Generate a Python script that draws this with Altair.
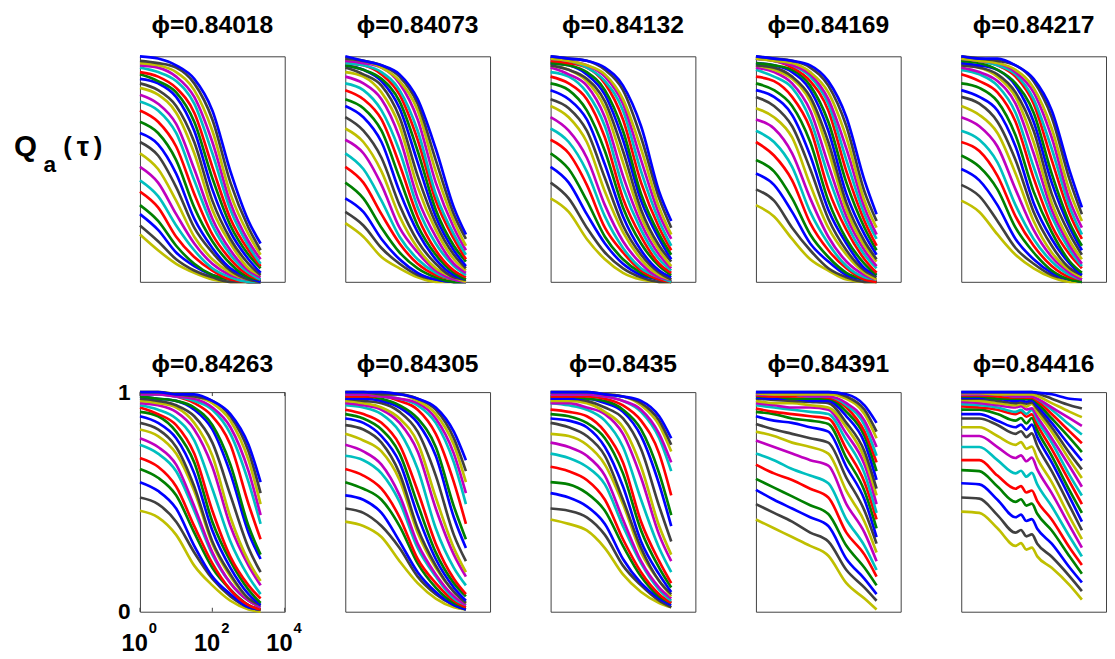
import altair as alt
import pandas as pd

TAU = [1, 3.162, 10, 31.62, 100, 316.2, 1000, 2154]
# the last panel is read more finely where its curves wiggle
TAU_P10 = [1, 3.162, 10, 31.62, 44.67, 63.1, 89.13, 125.9, 316.2, 1000, 2154]

PHI = ["0.84018", "0.84073", "0.84132", "0.84169", "0.84217",
       "0.84263", "0.84305", "0.8435", "0.84391", "0.84416"]

# Q_a(tau) for 24 probe lengths a, listed from the top curve to the bottom curve
P1 = [
    [1.00, 0.99, 0.96, 0.90, 0.76, 0.49, 0.27, 0.17],
    [0.98, 0.97, 0.95, 0.88, 0.72, 0.44, 0.24, 0.14],
    [0.97, 0.96, 0.93, 0.85, 0.67, 0.39, 0.21, 0.12],
    [0.96, 0.95, 0.91, 0.82, 0.62, 0.35, 0.18, 0.10],
    [0.95, 0.93, 0.89, 0.79, 0.57, 0.32, 0.16, 0.08],
    [0.93, 0.91, 0.86, 0.75, 0.51, 0.28, 0.14, 0.07],
    [0.92, 0.89, 0.84, 0.71, 0.46, 0.25, 0.12, 0.06],
    [0.90, 0.88, 0.82, 0.67, 0.41, 0.22, 0.10, 0.04],
    [0.88, 0.85, 0.78, 0.62, 0.36, 0.19, 0.08, 0.03],
    [0.86, 0.83, 0.75, 0.57, 0.32, 0.17, 0.06, 0.03],
    [0.83, 0.79, 0.70, 0.50, 0.28, 0.14, 0.05, 0.02],
    [0.80, 0.76, 0.66, 0.45, 0.25, 0.12, 0.04, 0.01],
    [0.76, 0.71, 0.60, 0.39, 0.21, 0.10, 0.03, 0.01],
    [0.71, 0.66, 0.54, 0.33, 0.18, 0.08, 0.02, 0.01],
    [0.66, 0.61, 0.48, 0.28, 0.15, 0.06, 0.02, 0.00],
    [0.62, 0.56, 0.42, 0.24, 0.13, 0.05, 0.01, 0.00],
    [0.57, 0.50, 0.36, 0.20, 0.10, 0.04, 0.01, 0.00],
    [0.51, 0.44, 0.30, 0.17, 0.08, 0.03, 0.01, 0.00],
    [0.45, 0.38, 0.25, 0.14, 0.06, 0.02, 0.00, 0.00],
    [0.40, 0.33, 0.20, 0.11, 0.05, 0.01, 0.00, 0.00],
    [0.34, 0.27, 0.16, 0.08, 0.03, 0.01, 0.00, 0.00],
    [0.30, 0.23, 0.13, 0.07, 0.03, 0.01, 0.00, 0.00],
    [0.25, 0.18, 0.10, 0.05, 0.02, 0.00, 0.00, 0.00],
    [0.21, 0.14, 0.08, 0.04, 0.01, 0.00, 0.00, 0.00],
]
P2 = [
    [1.00, 0.98, 0.96, 0.92, 0.81, 0.59, 0.33, 0.21],
    [0.99, 0.98, 0.96, 0.91, 0.79, 0.54, 0.30, 0.19],
    [0.99, 0.98, 0.95, 0.89, 0.76, 0.49, 0.27, 0.16],
    [0.98, 0.97, 0.95, 0.88, 0.72, 0.44, 0.24, 0.14],
    [0.97, 0.96, 0.93, 0.85, 0.67, 0.39, 0.21, 0.12],
    [0.97, 0.96, 0.92, 0.83, 0.63, 0.36, 0.19, 0.10],
    [0.96, 0.94, 0.90, 0.80, 0.58, 0.32, 0.16, 0.09],
    [0.96, 0.94, 0.89, 0.77, 0.53, 0.29, 0.14, 0.07],
    [0.95, 0.92, 0.87, 0.73, 0.47, 0.26, 0.12, 0.06],
    [0.93, 0.91, 0.84, 0.69, 0.42, 0.23, 0.10, 0.05],
    [0.91, 0.88, 0.81, 0.64, 0.37, 0.20, 0.08, 0.04],
    [0.88, 0.85, 0.76, 0.58, 0.33, 0.17, 0.07, 0.03],
    [0.85, 0.81, 0.72, 0.52, 0.29, 0.14, 0.05, 0.02],
    [0.81, 0.77, 0.67, 0.46, 0.25, 0.12, 0.04, 0.01],
    [0.78, 0.73, 0.62, 0.40, 0.22, 0.10, 0.03, 0.01],
    [0.73, 0.67, 0.55, 0.34, 0.18, 0.08, 0.02, 0.01],
    [0.68, 0.62, 0.49, 0.29, 0.15, 0.06, 0.02, 0.00],
    [0.63, 0.57, 0.43, 0.24, 0.13, 0.05, 0.01, 0.00],
    [0.57, 0.50, 0.36, 0.20, 0.10, 0.04, 0.01, 0.00],
    [0.51, 0.44, 0.30, 0.17, 0.08, 0.03, 0.01, 0.00],
    [0.44, 0.37, 0.24, 0.13, 0.06, 0.02, 0.00, 0.00],
    [0.37, 0.31, 0.19, 0.10, 0.04, 0.01, 0.00, 0.00],
    [0.31, 0.25, 0.15, 0.08, 0.03, 0.01, 0.00, 0.00],
    [0.26, 0.20, 0.11, 0.06, 0.02, 0.00, 0.00, 0.00],
]
P3 = [
    [1.00, 0.99, 0.98, 0.95, 0.87, 0.69, 0.40, 0.27],
    [1.00, 0.99, 0.98, 0.94, 0.85, 0.64, 0.37, 0.24],
    [0.99, 0.98, 0.96, 0.92, 0.81, 0.59, 0.33, 0.21],
    [0.99, 0.98, 0.96, 0.91, 0.79, 0.54, 0.30, 0.19],
    [0.99, 0.98, 0.95, 0.89, 0.76, 0.49, 0.27, 0.16],
    [0.98, 0.97, 0.95, 0.88, 0.72, 0.44, 0.24, 0.14],
    [0.97, 0.96, 0.93, 0.85, 0.67, 0.39, 0.21, 0.12],
    [0.97, 0.96, 0.92, 0.83, 0.63, 0.36, 0.19, 0.10],
    [0.96, 0.94, 0.90, 0.80, 0.58, 0.32, 0.16, 0.09],
    [0.96, 0.94, 0.89, 0.77, 0.53, 0.29, 0.14, 0.07],
    [0.95, 0.92, 0.87, 0.73, 0.47, 0.26, 0.12, 0.06],
    [0.93, 0.91, 0.84, 0.69, 0.42, 0.23, 0.10, 0.05],
    [0.91, 0.88, 0.81, 0.64, 0.37, 0.20, 0.08, 0.04],
    [0.88, 0.85, 0.76, 0.58, 0.33, 0.17, 0.07, 0.03],
    [0.85, 0.81, 0.72, 0.52, 0.29, 0.14, 0.05, 0.02],
    [0.81, 0.77, 0.67, 0.46, 0.25, 0.12, 0.04, 0.01],
    [0.78, 0.73, 0.62, 0.40, 0.22, 0.10, 0.03, 0.01],
    [0.73, 0.67, 0.55, 0.34, 0.18, 0.08, 0.02, 0.01],
    [0.68, 0.62, 0.49, 0.29, 0.15, 0.06, 0.02, 0.00],
    [0.63, 0.57, 0.43, 0.24, 0.13, 0.05, 0.01, 0.00],
    [0.57, 0.50, 0.36, 0.20, 0.10, 0.04, 0.01, 0.00],
    [0.51, 0.44, 0.30, 0.17, 0.08, 0.03, 0.01, 0.00],
    [0.44, 0.37, 0.24, 0.13, 0.06, 0.02, 0.00, 0.00],
    [0.37, 0.31, 0.19, 0.10, 0.04, 0.01, 0.00, 0.00],
]
P4 = [
    [1.00, 0.99, 0.98, 0.96, 0.89, 0.73, 0.45, 0.30],
    [1.00, 0.99, 0.98, 0.95, 0.87, 0.69, 0.40, 0.27],
    [0.99, 0.98, 0.97, 0.93, 0.84, 0.64, 0.36, 0.24],
    [0.99, 0.98, 0.96, 0.92, 0.81, 0.59, 0.33, 0.21],
    [0.99, 0.98, 0.96, 0.91, 0.79, 0.54, 0.30, 0.19],
    [0.99, 0.98, 0.95, 0.89, 0.76, 0.49, 0.27, 0.16],
    [0.97, 0.96, 0.94, 0.87, 0.71, 0.44, 0.24, 0.14],
    [0.97, 0.96, 0.93, 0.85, 0.67, 0.39, 0.21, 0.12],
    [0.96, 0.95, 0.91, 0.82, 0.62, 0.35, 0.18, 0.10],
    [0.96, 0.94, 0.90, 0.80, 0.58, 0.32, 0.16, 0.09],
    [0.95, 0.93, 0.88, 0.76, 0.52, 0.29, 0.14, 0.07],
    [0.94, 0.91, 0.86, 0.72, 0.47, 0.26, 0.12, 0.06],
    [0.91, 0.89, 0.82, 0.68, 0.41, 0.23, 0.10, 0.04],
    [0.88, 0.85, 0.78, 0.62, 0.36, 0.19, 0.08, 0.03],
    [0.85, 0.82, 0.74, 0.56, 0.32, 0.17, 0.06, 0.03],
    [0.82, 0.78, 0.69, 0.50, 0.28, 0.14, 0.05, 0.02],
    [0.77, 0.73, 0.64, 0.43, 0.24, 0.12, 0.04, 0.01],
    [0.72, 0.68, 0.57, 0.37, 0.20, 0.09, 0.03, 0.01],
    [0.67, 0.62, 0.51, 0.31, 0.17, 0.07, 0.02, 0.01],
    [0.62, 0.56, 0.45, 0.26, 0.14, 0.06, 0.01, 0.00],
    [0.54, 0.49, 0.37, 0.21, 0.11, 0.04, 0.01, 0.00],
    [0.48, 0.43, 0.31, 0.17, 0.09, 0.03, 0.01, 0.00],
    [0.41, 0.36, 0.24, 0.14, 0.06, 0.02, 0.00, 0.00],
    [0.34, 0.29, 0.19, 0.10, 0.05, 0.01, 0.00, 0.00],
]
P5 = [
    [1.00, 0.99, 0.99, 0.96, 0.90, 0.76, 0.49, 0.33],
    [1.00, 0.99, 0.98, 0.96, 0.89, 0.73, 0.45, 0.30],
    [0.99, 0.98, 0.97, 0.94, 0.86, 0.68, 0.40, 0.27],
    [0.99, 0.98, 0.97, 0.93, 0.84, 0.64, 0.36, 0.24],
    [0.99, 0.98, 0.96, 0.92, 0.81, 0.59, 0.33, 0.21],
    [0.99, 0.98, 0.96, 0.91, 0.79, 0.54, 0.30, 0.19],
    [0.98, 0.97, 0.94, 0.88, 0.75, 0.48, 0.26, 0.16],
    [0.97, 0.96, 0.94, 0.87, 0.71, 0.44, 0.24, 0.14],
    [0.96, 0.95, 0.92, 0.84, 0.67, 0.39, 0.21, 0.12],
    [0.96, 0.95, 0.91, 0.82, 0.62, 0.35, 0.18, 0.10],
    [0.95, 0.93, 0.89, 0.79, 0.57, 0.32, 0.16, 0.08],
    [0.94, 0.92, 0.87, 0.75, 0.51, 0.29, 0.14, 0.07],
    [0.92, 0.89, 0.84, 0.71, 0.46, 0.25, 0.12, 0.06],
    [0.88, 0.86, 0.80, 0.65, 0.40, 0.22, 0.09, 0.04],
    [0.85, 0.82, 0.76, 0.60, 0.35, 0.19, 0.08, 0.03],
    [0.82, 0.79, 0.71, 0.54, 0.31, 0.16, 0.06, 0.03],
    [0.78, 0.74, 0.66, 0.48, 0.27, 0.13, 0.05, 0.02],
    [0.73, 0.69, 0.60, 0.41, 0.23, 0.11, 0.04, 0.01],
    [0.67, 0.63, 0.53, 0.34, 0.19, 0.09, 0.03, 0.01],
    [0.62, 0.58, 0.47, 0.29, 0.16, 0.07, 0.02, 0.01],
    [0.56, 0.51, 0.41, 0.24, 0.13, 0.05, 0.01, 0.00],
    [0.50, 0.45, 0.34, 0.19, 0.10, 0.04, 0.01, 0.00],
    [0.43, 0.38, 0.27, 0.15, 0.08, 0.03, 0.01, 0.00],
    [0.36, 0.31, 0.21, 0.12, 0.06, 0.02, 0.00, 0.00],
]
P6 = [
    [1.00, 1.00, 0.99, 0.99, 0.96, 0.90, 0.76, 0.59],
    [1.00, 1.00, 0.99, 0.98, 0.96, 0.89, 0.73, 0.54],
    [1.00, 1.00, 0.99, 0.98, 0.95, 0.87, 0.69, 0.49],
    [0.99, 0.99, 0.98, 0.97, 0.93, 0.84, 0.64, 0.44],
    [0.99, 0.99, 0.98, 0.96, 0.92, 0.81, 0.59, 0.40],
    [0.99, 0.99, 0.98, 0.95, 0.89, 0.76, 0.49, 0.33],
    [0.98, 0.97, 0.96, 0.93, 0.85, 0.67, 0.39, 0.26],
    [0.98, 0.97, 0.96, 0.92, 0.83, 0.63, 0.36, 0.24],
    [0.97, 0.96, 0.94, 0.89, 0.77, 0.53, 0.29, 0.18],
    [0.96, 0.95, 0.93, 0.86, 0.71, 0.43, 0.23, 0.14],
    [0.95, 0.94, 0.91, 0.83, 0.66, 0.39, 0.21, 0.12],
    [0.94, 0.92, 0.88, 0.78, 0.56, 0.32, 0.16, 0.08],
    [0.93, 0.90, 0.85, 0.72, 0.46, 0.25, 0.12, 0.06],
    [0.91, 0.89, 0.82, 0.68, 0.41, 0.23, 0.10, 0.04],
    [0.89, 0.86, 0.79, 0.63, 0.37, 0.20, 0.08, 0.03],
    [0.86, 0.83, 0.75, 0.57, 0.32, 0.17, 0.06, 0.03],
    [0.83, 0.80, 0.72, 0.55, 0.31, 0.16, 0.06, 0.03],
    [0.79, 0.75, 0.67, 0.48, 0.27, 0.13, 0.05, 0.02],
    [0.76, 0.72, 0.64, 0.46, 0.26, 0.13, 0.05, 0.02],
    [0.70, 0.66, 0.57, 0.39, 0.22, 0.10, 0.03, 0.01],
    [0.65, 0.61, 0.53, 0.36, 0.20, 0.10, 0.03, 0.01],
    [0.59, 0.55, 0.47, 0.30, 0.16, 0.08, 0.02, 0.01],
    [0.52, 0.49, 0.41, 0.27, 0.15, 0.07, 0.02, 0.01],
    [0.46, 0.43, 0.35, 0.21, 0.12, 0.05, 0.01, 0.00],
]
P7 = [
    [1.00, 1.00, 1.00, 0.99, 0.97, 0.93, 0.82, 0.69],
    [1.00, 1.00, 0.99, 0.99, 0.97, 0.92, 0.79, 0.64],
    [1.00, 1.00, 0.99, 0.99, 0.96, 0.90, 0.76, 0.59],
    [0.99, 0.99, 0.98, 0.97, 0.95, 0.88, 0.72, 0.54],
    [0.99, 0.99, 0.98, 0.97, 0.94, 0.86, 0.68, 0.49],
    [0.98, 0.98, 0.98, 0.96, 0.92, 0.81, 0.59, 0.40],
    [0.98, 0.98, 0.97, 0.94, 0.88, 0.75, 0.48, 0.33],
    [0.97, 0.97, 0.96, 0.93, 0.86, 0.71, 0.43, 0.29],
    [0.97, 0.96, 0.95, 0.91, 0.82, 0.62, 0.35, 0.23],
    [0.96, 0.95, 0.93, 0.88, 0.77, 0.52, 0.29, 0.18],
    [0.95, 0.94, 0.92, 0.86, 0.73, 0.47, 0.26, 0.16],
    [0.94, 0.93, 0.90, 0.82, 0.65, 0.38, 0.20, 0.12],
    [0.92, 0.90, 0.86, 0.76, 0.55, 0.31, 0.15, 0.08],
    [0.90, 0.88, 0.83, 0.72, 0.49, 0.27, 0.13, 0.07],
    [0.88, 0.86, 0.80, 0.68, 0.44, 0.24, 0.11, 0.05],
    [0.85, 0.83, 0.77, 0.63, 0.38, 0.21, 0.09, 0.04],
    [0.81, 0.78, 0.73, 0.60, 0.36, 0.20, 0.09, 0.04],
    [0.76, 0.73, 0.67, 0.53, 0.31, 0.17, 0.07, 0.03],
    [0.71, 0.69, 0.63, 0.50, 0.29, 0.16, 0.06, 0.03],
    [0.65, 0.62, 0.56, 0.43, 0.24, 0.13, 0.05, 0.02],
    [0.59, 0.56, 0.51, 0.39, 0.22, 0.11, 0.04, 0.02],
    [0.53, 0.51, 0.45, 0.32, 0.18, 0.09, 0.03, 0.01],
    [0.47, 0.45, 0.39, 0.29, 0.16, 0.08, 0.03, 0.01],
    [0.41, 0.39, 0.34, 0.23, 0.13, 0.06, 0.02, 0.01],
]
P8 = [
    [1.00, 1.00, 1.00, 0.99, 0.98, 0.96, 0.89, 0.79],
    [1.00, 1.00, 1.00, 0.99, 0.98, 0.95, 0.87, 0.76],
    [1.00, 1.00, 1.00, 0.99, 0.98, 0.94, 0.85, 0.73],
    [0.99, 0.99, 0.99, 0.98, 0.96, 0.92, 0.81, 0.68],
    [0.99, 0.99, 0.99, 0.98, 0.96, 0.91, 0.79, 0.64],
    [0.98, 0.98, 0.98, 0.97, 0.94, 0.87, 0.72, 0.53],
    [0.98, 0.98, 0.97, 0.96, 0.92, 0.83, 0.63, 0.44],
    [0.97, 0.97, 0.97, 0.95, 0.91, 0.80, 0.58, 0.39],
    [0.97, 0.97, 0.96, 0.93, 0.88, 0.74, 0.48, 0.32],
    [0.96, 0.96, 0.95, 0.91, 0.84, 0.66, 0.39, 0.26],
    [0.95, 0.95, 0.93, 0.90, 0.81, 0.61, 0.35, 0.23],
    [0.95, 0.94, 0.92, 0.87, 0.75, 0.51, 0.29, 0.18],
    [0.92, 0.91, 0.89, 0.82, 0.68, 0.41, 0.23, 0.13],
    [0.90, 0.89, 0.86, 0.79, 0.63, 0.37, 0.20, 0.11],
    [0.88, 0.87, 0.84, 0.75, 0.57, 0.32, 0.17, 0.09],
    [0.86, 0.84, 0.80, 0.71, 0.51, 0.29, 0.14, 0.08],
    [0.81, 0.80, 0.76, 0.67, 0.49, 0.27, 0.14, 0.07],
    [0.77, 0.75, 0.71, 0.62, 0.42, 0.23, 0.11, 0.06],
    [0.72, 0.70, 0.66, 0.58, 0.39, 0.22, 0.10, 0.05],
    [0.66, 0.64, 0.60, 0.51, 0.33, 0.18, 0.08, 0.04],
    [0.59, 0.58, 0.54, 0.46, 0.30, 0.16, 0.07, 0.04],
    [0.54, 0.52, 0.48, 0.40, 0.24, 0.13, 0.06, 0.03],
    [0.47, 0.46, 0.43, 0.35, 0.21, 0.12, 0.05, 0.02],
    [0.42, 0.40, 0.37, 0.29, 0.17, 0.09, 0.04, 0.02],
]
P9 = [
    [1.00, 1.00, 1.00, 1.00, 1.00, 0.99, 0.94, 0.86],
    [1.00, 1.00, 1.00, 1.00, 1.00, 0.98, 0.92, 0.82],
    [0.995, 0.99, 0.99, 0.99, 0.99, 0.97, 0.90, 0.79],
    [0.99, 0.99, 0.99, 0.98, 0.98, 0.95, 0.87, 0.75],
    [0.99, 0.99, 0.99, 0.98, 0.98, 0.94, 0.85, 0.71],
    [0.985, 0.98, 0.98, 0.98, 0.975, 0.93, 0.82, 0.68],
    [0.98, 0.98, 0.97, 0.97, 0.97, 0.91, 0.80, 0.64],
    [0.975, 0.97, 0.97, 0.96, 0.96, 0.89, 0.77, 0.60],
    [0.97, 0.965, 0.96, 0.955, 0.95, 0.86, 0.73, 0.56],
    [0.96, 0.95, 0.95, 0.94, 0.93, 0.84, 0.70, 0.53],
    [0.95, 0.94, 0.93, 0.93, 0.92, 0.81, 0.67, 0.49],
    [0.94, 0.93, 0.92, 0.91, 0.90, 0.78, 0.63, 0.45],
    [0.925, 0.91, 0.90, 0.89, 0.88, 0.74, 0.59, 0.42],
    [0.91, 0.90, 0.88, 0.87, 0.855, 0.70, 0.55, 0.38],
    [0.89, 0.87, 0.86, 0.84, 0.82, 0.66, 0.51, 0.34],
    [0.855, 0.83, 0.81, 0.79, 0.77, 0.61, 0.46, 0.31],
    [0.82, 0.80, 0.77, 0.75, 0.72, 0.55, 0.41, 0.27],
    [0.78, 0.75, 0.72, 0.69, 0.665, 0.49, 0.36, 0.23],
    [0.72, 0.69, 0.65, 0.62, 0.585, 0.42, 0.30, 0.19],
    [0.67, 0.63, 0.60, 0.56, 0.52, 0.36, 0.26, 0.16],
    [0.605, 0.565, 0.525, 0.485, 0.445, 0.30, 0.20, 0.12],
    [0.555, 0.51, 0.47, 0.43, 0.39, 0.24, 0.15, 0.08],
    [0.49, 0.45, 0.41, 0.36, 0.32, 0.19, 0.11, 0.05],
    [0.42, 0.38, 0.34, 0.30, 0.255, 0.13, 0.06, 0.01],
]
# read at TAU_P10
P10 = [
    [1.00, 1.00, 1.00, 1.00, 1.00, 1.00, 1.00, 0.998, 0.99, 0.97, 0.965],
    [1.00, 1.00, 1.00, 1.00, 1.00, 1.00, 1.00, 0.994, 0.97, 0.94, 0.925],
    [0.995, 0.995, 0.99, 0.99, 0.99, 0.99, 0.99, 0.982, 0.95, 0.91, 0.886],
    [0.99, 0.99, 0.99, 0.98, 0.98, 0.98, 0.98, 0.97, 0.93, 0.88, 0.846],
    [0.99, 0.99, 0.99, 0.98, 0.98, 0.98, 0.98, 0.968, 0.92, 0.85, 0.807],
    [0.985, 0.985, 0.98, 0.976, 0.976, 0.975, 0.975, 0.96, 0.90, 0.82, 0.767],
    [0.98, 0.98, 0.97, 0.97, 0.97, 0.969, 0.97, 0.95, 0.88, 0.79, 0.727],
    [0.975, 0.975, 0.97, 0.96, 0.963, 0.957, 0.963, 0.937, 0.86, 0.755, 0.688],
    [0.97, 0.97, 0.96, 0.95, 0.953, 0.947, 0.953, 0.925, 0.84, 0.72, 0.648],
    [0.965, 0.96, 0.95, 0.94, 0.946, 0.934, 0.946, 0.91, 0.82, 0.69, 0.609],
    [0.955, 0.95, 0.94, 0.93, 0.936, 0.921, 0.926, 0.888, 0.79, 0.66, 0.569],
    [0.945, 0.94, 0.93, 0.91, 0.919, 0.901, 0.919, 0.873, 0.77, 0.62, 0.529],
    [0.935, 0.93, 0.92, 0.90, 0.909, 0.888, 0.899, 0.851, 0.74, 0.59, 0.49],
    [0.92, 0.92, 0.90, 0.87, 0.882, 0.858, 0.882, 0.826, 0.71, 0.55, 0.45],
    [0.90, 0.90, 0.87, 0.84, 0.852, 0.828, 0.852, 0.796, 0.68, 0.52, 0.41],
    [0.88, 0.88, 0.85, 0.81, 0.822, 0.795, 0.812, 0.756, 0.64, 0.48, 0.371],
    [0.84, 0.84, 0.80, 0.76, 0.772, 0.742, 0.752, 0.698, 0.59, 0.43, 0.331],
    [0.80, 0.80, 0.75, 0.70, 0.712, 0.685, 0.702, 0.648, 0.54, 0.39, 0.292],
    [0.75, 0.75, 0.69, 0.63, 0.642, 0.615, 0.632, 0.58, 0.48, 0.34, 0.252],
    [0.69, 0.69, 0.62, 0.56, 0.572, 0.543, 0.552, 0.504, 0.42, 0.29, 0.213],
    [0.645, 0.64, 0.57, 0.50, 0.512, 0.483, 0.492, 0.446, 0.37, 0.25, 0.173],
    [0.585, 0.58, 0.51, 0.43, 0.442, 0.413, 0.422, 0.378, 0.31, 0.20, 0.133],
    [0.52, 0.515, 0.44, 0.36, 0.372, 0.343, 0.352, 0.31, 0.25, 0.16, 0.094],
    [0.456, 0.45, 0.38, 0.30, 0.312, 0.283, 0.292, 0.252, 0.20, 0.12, 0.055],
]
PANELS = [P1, P2, P3, P4, P5, P6, P7, P8, P9, P10]
PANEL_TAU = [TAU] * 9 + [TAU_P10]

X_TICKS = [1, 100, 10000]
X_EXP = ["0", "2", "4"]
Y_TICKS = [0, 1]

# MATLAB line colours, in the order the curves appear from the top one down
PALETTE = ["#0000ff", "#404040", "#bfbf00", "#bf00bf", "#00bfbf", "#ff0000", "#008000"]
FONT = "Liberation Sans"

rows = []
for p, panel in enumerate(PANELS):
    for m in range(len(panel) - 1, -1, -1):   # bottom curve first, top curve drawn last
        for t, q in zip(PANEL_TAU[p], panel[m]):
            rows.append({"panel": p, "curve": m, "tau": t, "q": q})
df = pd.DataFrame(rows)

W = 147
H_TOP, H_BOT = 229, 223
xscale = alt.Scale(type="log", domain=[1, 10000], nice=False)
yscale = alt.Scale(domain=[0, 1], nice=False, zero=False)
cscale = alt.Scale(domain=list(range(24)), range=[PALETTE[m % 7] for m in range(24)])
one = pd.DataFrame({"k": [0]})


def make_panel(p, h, title_top, yaxis=None, extra=()):
    lines = alt.Chart(df[df.panel == p]).mark_line(
        strokeWidth=2.7, interpolate="monotone"
    ).encode(
        x=alt.X("tau:Q", scale=xscale, axis=None),
        y=alt.Y("q:Q", scale=yscale, axis=yaxis),
        color=alt.Color("curve:N", scale=cscale, legend=None),
    )
    title = alt.Chart(one).mark_text(
        text="\u03d5=" + PHI[p], fontSize=25, fontWeight="bold", font=FONT,
        align="center", baseline="top", color="black"
    ).encode(x=alt.value(W / 2), y=alt.value(title_top))
    return alt.layer(lines, title, *extra).properties(width=W, height=h)


def label(txt, size, x, y, align="left"):
    return alt.Chart(one).mark_text(
        text=txt, fontSize=size, fontWeight="bold", font=FONT, align=align,
        baseline="alphabetic", color="black"
    ).encode(x=alt.value(x), y=alt.value(y))


q_label = [
    label("Q", 30, -128, 101),
    label("a", 23, -98, 117),
    label("(", 26, -78, 100),
    label("\u03c4", 28, -58, 101, align="center"),
    label(")", 26, -47, 100),
]

xt = pd.DataFrame({"tau": X_TICKS, "exp": X_EXP})
xenc = alt.X("tau:Q", scale=xscale, axis=None)
x_labels = [
    alt.Chart(xt).mark_text(text="10", fontSize=24, fontWeight="bold", font=FONT,
                            align="right", baseline="alphabetic", dx=8, color="black"
                            ).encode(x=xenc, y=alt.value(H_BOT + 40)),
    alt.Chart(xt).mark_text(fontSize=15, fontWeight="bold", font=FONT,
                            align="left", baseline="alphabetic", dx=9, color="black"
                            ).encode(x=xenc, y=alt.value(H_BOT + 22), text="exp:N"),
    # short inward tick marks on the bottom and top edges
    alt.Chart(xt).mark_rule(color="#404040", strokeWidth=1
                            ).encode(x=xenc, y=alt.value(H_BOT), y2=alt.value(H_BOT - 4)),
    alt.Chart(xt).mark_rule(color="#404040", strokeWidth=1
                            ).encode(x=xenc, y=alt.value(0), y2=alt.value(4)),
]

yaxis = alt.Axis(values=Y_TICKS, format="d", labelFontSize=23, labelFontWeight="bold",
                 labelFont=FONT, labelColor="black", ticks=False, domain=False,
                 grid=False, labelPadding=10, title=None)

panels = [make_panel(0, H_TOP, -43.5, extra=q_label)]
panels += [make_panel(p, H_TOP, -43.5) for p in range(1, 5)]
panels += [make_panel(5, H_BOT, -40.5, yaxis=yaxis, extra=x_labels)]
panels += [make_panel(p, H_BOT, -40.5) for p in range(6, 10)]

chart = alt.concat(
    *panels, columns=5, spacing={"row": 112, "column": 61.5}, bounds="flush"
).configure_view(
    stroke="#404040", strokeWidth=1
).properties(background="white", padding={"left": 5, "top": 0, "right": 0, "bottom": 0})

chart.save("out.html", embed_options={"renderer": "svg", "actions": False})
